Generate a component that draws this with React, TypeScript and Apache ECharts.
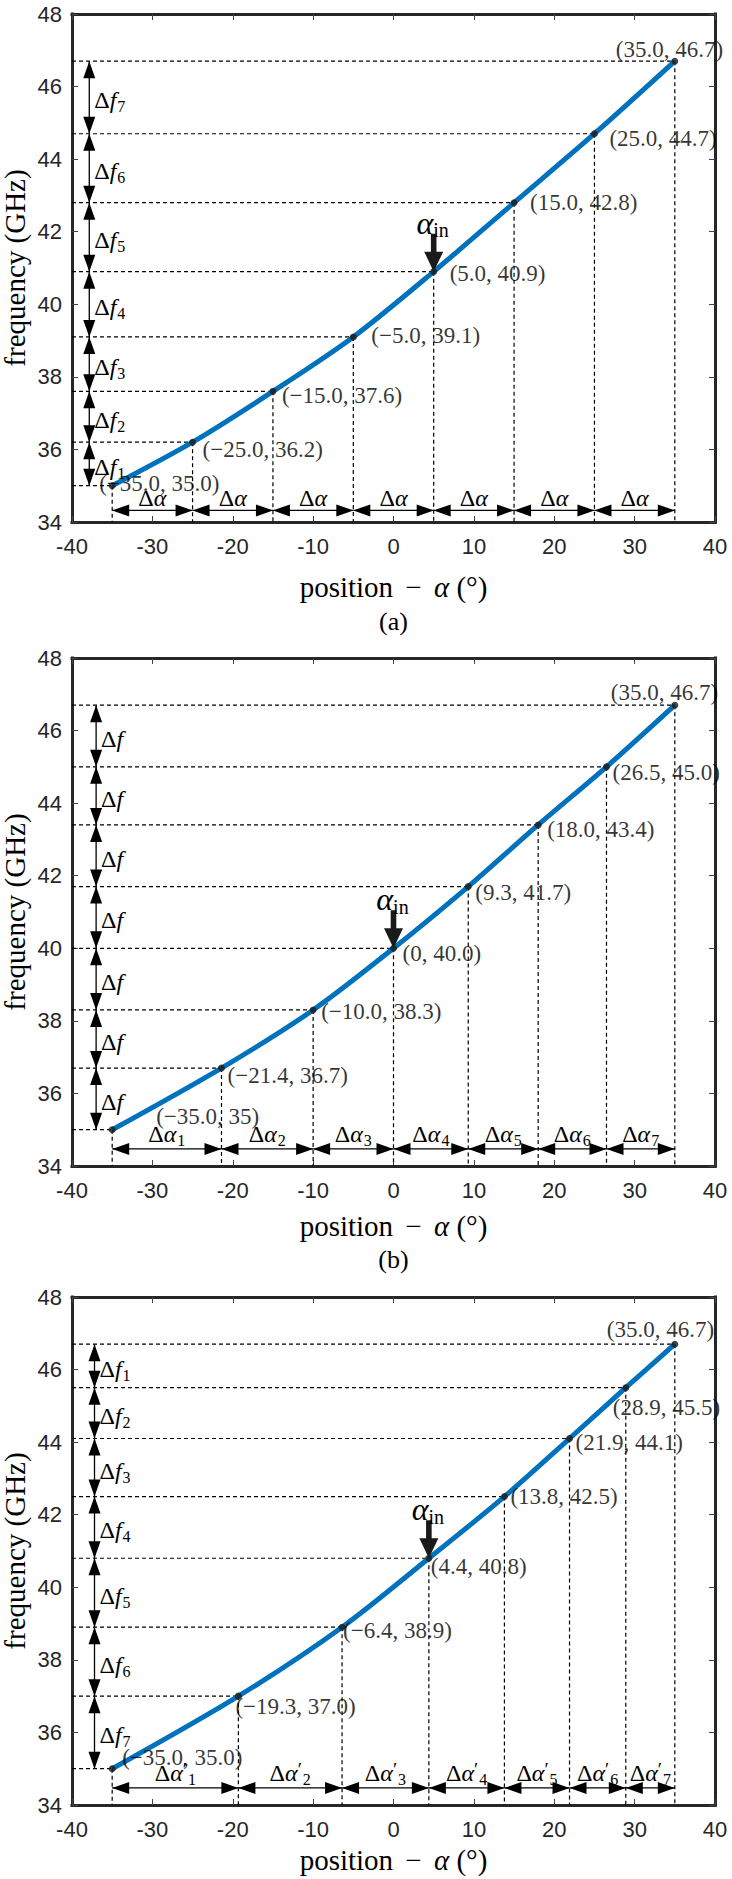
import React, { useEffect, useRef } from 'react';
import * as echarts from 'echarts';

// ---------- axis ticks ----------
const X_MIN = -40;
const X_MAX = 40;
const X_INTERVAL = 10;
const Y_MIN = 34;
const Y_MAX = 48;
const Y_INTERVAL = 2;

// ---------- panel (a) ----------
const alphaA = [-35.0, -25.0, -15.0, -5.0, 5.0, 15.0, 25.0, 35.0];
const freqA = [35.0, 36.2, 37.6, 39.1, 40.9, 42.8, 44.7, 46.7];
const pointLabelsA = ['(−35.0, 35.0)', '(−25.0, 36.2)', '(−15.0, 37.6)', '(−5.0, 39.1)', '(5.0, 40.9)', '(15.0, 42.8)', '(25.0, 44.7)', '(35.0, 46.7)'];
const dfSubA = ['1', '2', '3', '4', '5', '6', '7'];
const daSubA = ['', '', '', '', '', '', ''];

// ---------- panel (b) ----------
const alphaB = [-35.0, -21.4, -10.0, 0, 9.3, 18.0, 26.5, 35.0];
const freqB = [35.0, 36.7, 38.3, 40.0, 41.7, 43.4, 45.0, 46.7];
const pointLabelsB = ['(−35.0, 35)', '(−21.4, 36.7)', '(−10.0, 38.3)', '(0, 40.0)', '(9.3, 41.7)', '(18.0, 43.4)', '(26.5, 45.0)', '(35.0, 46.7)'];
const dfSubB = ['', '', '', '', '', '', ''];
const daSubB = ['1', '2', '3', '4', '5', '6', '7'];

// ---------- panel (c) ----------
const alphaC = [-35.0, -19.3, -6.4, 4.4, 13.8, 21.9, 28.9, 35.0];
const freqC = [35.0, 37.0, 38.9, 40.8, 42.5, 44.1, 45.5, 46.7];
const pointLabelsC = ['(−35.0, 35.0)', '(−19.3, 37.0)', '(−6.4, 38.9)', '(4.4, 40.8)', '(13.8, 42.5)', '(21.9, 44.1)', '(28.9, 45.5)', '(35.0, 46.7)'];
const dfSubC = ['7', '6', '5', '4', '3', '2', '1'];
const daSubC = ['1', '2', '3', '4', '5', '6', '7'];

const captions = ['(a)', '(b)'];
const xName = 'position {m|−} {i|α} (°)';
const yName = 'frequency (GHz)';

// ---------- layout (pixels / styles) ----------
const SERIF = '"Liberation Serif", "Times New Roman", serif';
const SANS = '"Liberation Sans", Arial, Helvetica, sans-serif';
const GRID_LEFT = 72;
const GRID_WIDTH = 643;
const GRID_HEIGHT = 508;
const GRID_TOPS = [14, 658, 1297];
const CAPTION_Y = [621, 1259];
const XNAME_Y = [587, 1226, 1860];
const YNAME_X = 15;
const BLUE = '#0072BD';
const FRAME = '#262626';

// label offsets (px) of each point label: start x and centre y relative to the point
const offsA = [[-13, -2], [10, 7], [9, 4], [18, -1], [16, 2], [16, 0], [15, 5], [-59, -12]];
const offsB = [[44, -13], [6, 7], [8, 2], [9, 5], [7, 6], [9, 5], [6, 6], [-64, -13]];
const offsC = [[10, -11], [-3, 10], [1, 3], [2, 8], [6, 0], [6, 4], [-13, 20], [-68, -15]];

const panels = [
  { alpha: alphaA, freq: freqA, labels: pointLabelsA, df: dfSubA, da: daSubA, prime: false, inIdx: 4, fArrowX: -37.85, aArrowY: 34.32, daDy: -12, offs: offsA },
  { alpha: alphaB, freq: freqB, labels: pointLabelsB, df: dfSubB, da: daSubB, prime: false, inIdx: 3, fArrowX: -37.0, aArrowY: 34.47, daDy: -15, offs: offsB },
  { alpha: alphaC, freq: freqC, labels: pointLabelsC, df: dfSubC, da: daSubC, prime: true, inIdx: 3, fArrowX: -37.2, aArrowY: 34.47, daDy: -15, offs: offsC },
];

const RICH: any = {
  d: { fontFamily: SERIF, fontSize: 24, fill: '#000' },
  i: { fontFamily: SERIF, fontSize: 24, fontStyle: 'italic', fill: '#000' },
  s: { fontFamily: SERIF, fontSize: 16, padding: [13, 0, 0, 1], fill: '#000' },
  p: { fontFamily: SERIF, fontSize: 19, padding: [0, 0, 6, 0], fill: '#000' },
  a: { fontFamily: SERIF, fontSize: 32, fontStyle: 'italic', fill: '#000' },
  n: { fontFamily: SERIF, fontSize: 20, padding: [15, 0, 0, 0], fill: '#000' },
};

const NAME_RICH: any = {
  m: { fontFamily: SERIF, fontSize: 29, padding: [0, 5, 0, 5], fill: '#000' },
  i: { fontFamily: SERIF, fontSize: 29, fontStyle: 'italic', fill: '#000' },
};

function head(tx: number, ty: number, dx: number, dy: number, len: number, hw: number) {
  const L = Math.hypot(dx, dy) || 1;
  const ux = dx / L, uy = dy / L;
  const bx = tx - ux * len, by = ty - uy * len;
  const nx = -uy, ny = ux;
  return {
    type: 'polygon',
    shape: { points: [[tx, ty], [bx + nx * hw, by + ny * hw], [bx - nx * hw, by - ny * hw]] },
    style: { fill: '#000' },
  };
}

function doubleArrow(p1: number[], p2: number[]) {
  return [
    { type: 'line', shape: { x1: p1[0], y1: p1[1], x2: p2[0], y2: p2[1] }, style: { stroke: '#000', lineWidth: 1.3 } },
    head(p1[0], p1[1], p1[0] - p2[0], p1[1] - p2[1], 17, 6),
    head(p2[0], p2[1], p2[0] - p1[0], p2[1] - p1[1], 17, 6),
  ];
}

function buildOption() {
  const grid: any[] = [];
  const xAxis: any[] = [];
  const yAxis: any[] = [];
  const series: any[] = [];
  const graphic: any[] = [];

  panels.forEach((P, g) => {
    grid.push({
      left: GRID_LEFT, top: GRID_TOPS[g], width: GRID_WIDTH, height: GRID_HEIGHT, show: false,
      containLabel: false, outerBoundsMode: 'none',
    });
    const tick = { show: true, inside: true, length: 6, lineStyle: { color: '#444', width: 1 } };
    const line = { show: true, onZero: false, lineStyle: { color: FRAME, width: 3, cap: 'square' } };
    xAxis.push({
      gridIndex: g, type: 'value', position: 'bottom', min: X_MIN, max: X_MAX, interval: X_INTERVAL,
      axisLine: line, splitLine: { show: false }, axisTick: tick,
      axisLabel: { color: '#262626', fontFamily: SANS, fontSize: 22, margin: 13 },
    });
    xAxis.push({
      gridIndex: g, type: 'value', position: 'top', min: X_MIN, max: X_MAX, interval: X_INTERVAL,
      axisLine: line, splitLine: { show: false }, axisTick: tick, axisLabel: { show: false },
    });
    yAxis.push({
      gridIndex: g, type: 'value', position: 'left', min: Y_MIN, max: Y_MAX, interval: Y_INTERVAL,
      axisLine: line, splitLine: { show: false }, axisTick: tick,
      axisLabel: { color: '#262626', fontFamily: SANS, fontSize: 22, margin: 10 },
    });
    yAxis.push({
      gridIndex: g, type: 'value', position: 'right', min: Y_MIN, max: Y_MAX, interval: Y_INTERVAL,
      axisLine: line, splitLine: { show: false }, axisTick: tick, axisLabel: { show: false },
    });

    graphic.push({
      type: 'text', x: GRID_LEFT + GRID_WIDTH / 2, y: XNAME_Y[g], silent: true,
      style: { text: xName, rich: NAME_RICH, fontFamily: SERIF, fontSize: 29, fill: '#000', align: 'center', verticalAlign: 'middle' },
    });
    graphic.push({
      type: 'text', x: YNAME_X, y: GRID_TOPS[g] + GRID_HEIGHT / 2, rotation: Math.PI / 2, silent: true,
      style: { text: yName, fontFamily: SERIF, fontSize: 29, fill: '#000', align: 'center', verticalAlign: 'middle' },
    });

    const xi = 2 * g, yi = 2 * g;
    const pts = P.alpha.map((a, k) => [a, P.freq[k]]);

    // dashed guide lines
    series.push({
      type: 'custom', xAxisIndex: xi, yAxisIndex: yi, z: 2, silent: true,
      data: pts,
      renderItem: (params: any, api: any) => {
        const x = api.value(0), y = api.value(1);
        const p = api.coord([x, y]);
        const l = api.coord([X_MIN, y]);
        const b = api.coord([x, Y_MIN]);
        const st = { stroke: '#000', lineWidth: 1.2, lineDash: [4, 3] };
        return {
          type: 'group',
          children: [
            { type: 'line', shape: { x1: l[0], y1: p[1], x2: p[0], y2: p[1] }, style: st },
            { type: 'line', shape: { x1: p[0], y1: p[1], x2: p[0], y2: b[1] }, style: st },
          ],
        };
      },
    });

    // curve
    series.push({
      type: 'line', xAxisIndex: xi, yAxisIndex: yi, z: 3, data: pts, smooth: 0.3,
      symbol: 'none', lineStyle: { color: BLUE, width: 5 }, silent: true,
    });

    // frequency double arrows
    series.push({
      type: 'custom', xAxisIndex: xi, yAxisIndex: yi, z: 4, silent: true,
      data: P.freq.slice(0, -1).map((f, k) => [P.fArrowX, f, P.freq[k + 1]]),
      renderItem: (params: any, api: any) => {
        const x = api.value(0);
        const p1 = api.coord([x, api.value(1)]);
        const p2 = api.coord([x, api.value(2)]);
        const sub = P.df[params.dataIndex];
        const txt = '{d|Δ}{i|f}' + (sub ? '{s|' + sub + '}' : '');
        return {
          type: 'group',
          children: [
            ...doubleArrow(p1, p2),
            {
              type: 'text', x: p1[0] + 5, y: (p1[1] + p2[1]) / 2 + 3,
              style: { text: txt, rich: RICH, align: 'left', verticalAlign: 'middle', fill: '#000', fontFamily: SERIF, fontSize: 24 },
            },
          ],
        };
      },
    });

    // angle double arrows
    series.push({
      type: 'custom', xAxisIndex: xi, yAxisIndex: yi, z: 4, silent: true,
      data: P.alpha.slice(0, -1).map((a, k) => [a, P.aArrowY, P.alpha[k + 1]]),
      renderItem: (params: any, api: any) => {
        const y = api.value(1);
        const p1 = api.coord([api.value(0), y]);
        const p2 = api.coord([api.value(2), y]);
        const sub = P.da[params.dataIndex];
        const txt = '{d|Δ}{i|α}' + (P.prime ? '{p|′}' : '') + (sub ? '{s|' + sub + '}' : '');
        return {
          type: 'group',
          children: [
            ...doubleArrow(p1, p2),
            {
              type: 'text', x: (p1[0] + p2[0]) / 2, y: p1[1] + P.daDy,
              style: { text: txt, rich: RICH, align: 'center', verticalAlign: 'middle', fill: '#000', fontFamily: SERIF, fontSize: 24 },
            },
          ],
        };
      },
    });

    // points with labels
    series.push({
      type: 'scatter', xAxisIndex: xi, yAxisIndex: yi, z: 5, silent: true,
      symbol: 'circle', symbolSize: 7, itemStyle: { color: '#1a1a1a' },
      label: {
        show: true, position: 'right', distance: 0, align: 'left', verticalAlign: 'middle',
        fontFamily: SERIF, fontSize: 23, color: '#000',
      },
      data: pts.map((v, k) => ({
        value: v,
        label: { formatter: P.labels[k], offset: [P.offs[k][0] - 3.5, P.offs[k][1]] },
      })),
    });

    // input angle arrow
    series.push({
      type: 'custom', xAxisIndex: xi, yAxisIndex: yi, z: 6, silent: true,
      data: [pts[P.inIdx]],
      renderItem: (params: any, api: any) => {
        const t = api.coord([api.value(0), api.value(1)]);
        const x = t[0], y = t[1];
        return {
          type: 'group',
          children: [
            {
              type: 'polygon',
              shape: {
                points: [[x, y], [x + 9.5, y - 20], [x + 2.8, y - 20], [x + 2.8, y - 38], [x - 2.8, y - 38], [x - 2.8, y - 20], [x - 9.5, y - 20]],
              },
              style: { fill: '#1a1a1a' },
            },
            {
              type: 'text', x: x - 1, y: y - 49,
              style: { text: '{a|α}{n|in}', rich: RICH, align: 'center', verticalAlign: 'middle', fill: '#000' },
            },
          ],
        };
      },
    });
  });

  captions.forEach((c, k) => {
    graphic.push({
      type: 'text', x: GRID_LEFT + GRID_WIDTH / 2, y: CAPTION_Y[k], silent: true,
      style: { text: c, fontFamily: SERIF, fontSize: 26, fill: '#000', align: 'center', verticalAlign: 'middle' },
    });
  });

  return { animation: false, backgroundColor: '#fff', grid, xAxis, yAxis, series, graphic };
}

export default function App() {
  const ref = useRef<HTMLDivElement>(null);
  useEffect(() => {
    if (!ref.current) return;
    const chart = echarts.init(ref.current, undefined, { renderer: 'svg' });
    chart.setOption(buildOption() as any);
    return () => chart.dispose();
  }, []);
  return (
    <div
      ref={ref}
      style={{ position: 'absolute', left: 0, top: 0, width: 732, height: 1879, background: '#fff' }}
    />
  );
}
